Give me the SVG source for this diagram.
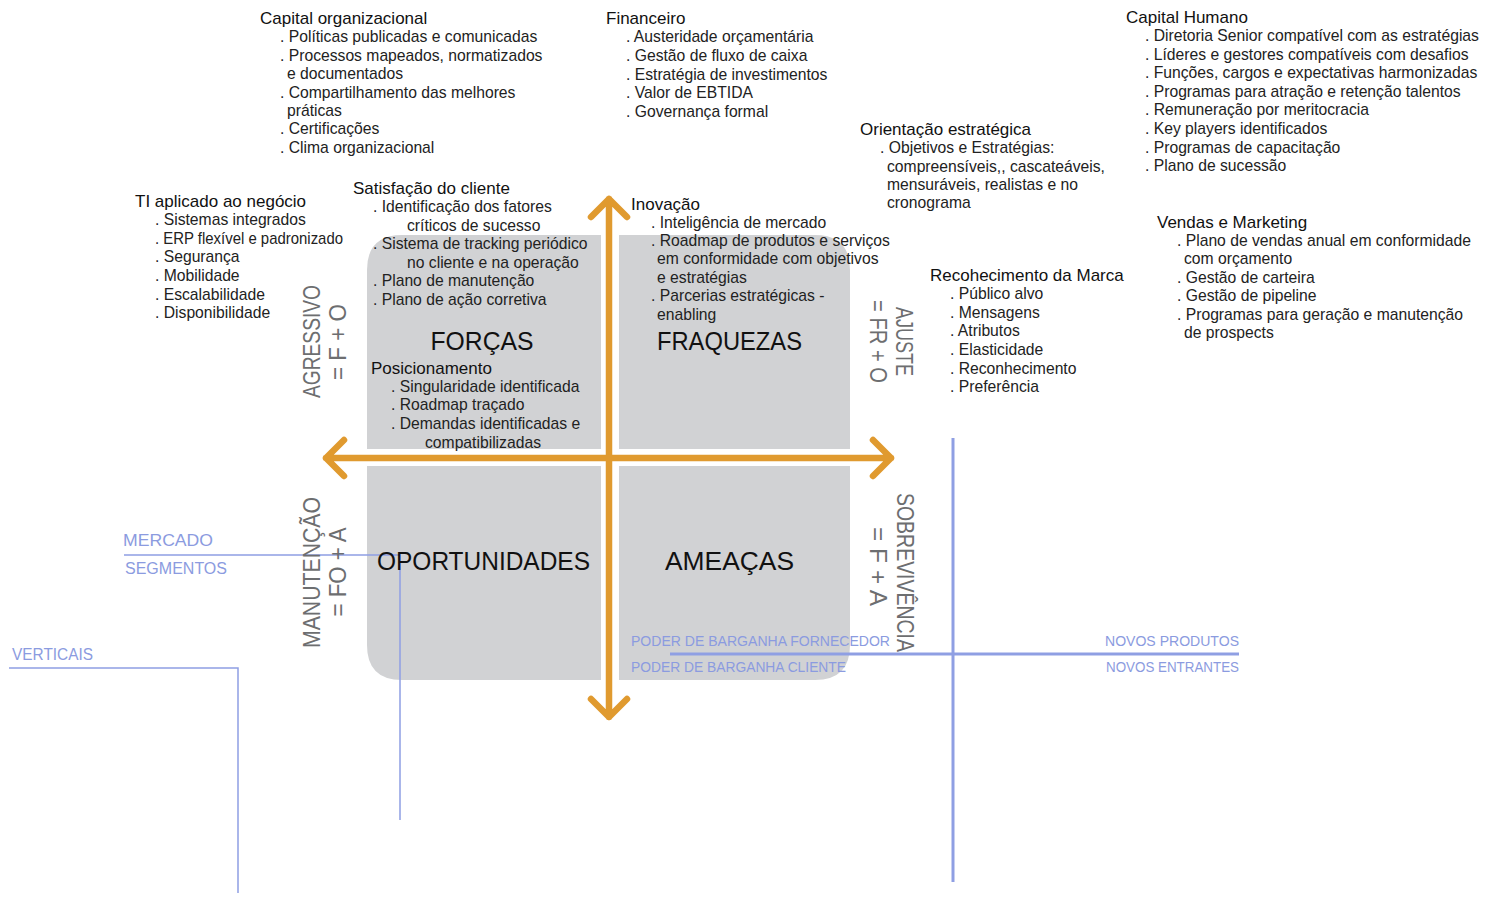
<svg xmlns="http://www.w3.org/2000/svg" width="1500" height="900" viewBox="0 0 1500 900">
<style>
text{font-family:"Liberation Sans","DejaVu Sans",sans-serif;}
.t{font-size:17px;fill:#111;}
.i{font-size:15.7px;fill:#222;}
.big{font-size:26px;fill:#111;text-anchor:middle;}
.rot{font-size:24px;fill:#6d6e70;text-anchor:middle;}
.bl{font-size:16px;fill:#8b9be0;}
.bls{font-size:14.5px;fill:#8b9be0;}
.q{fill:#d1d2d4;}
.arr{fill:none;stroke:#e09a2f;stroke-width:6.5;stroke-linecap:round;stroke-linejoin:round;}
.ln{fill:none;stroke:#8f9fe3;stroke-width:1.5;}
.lnb{fill:none;stroke:#8f9fe3;stroke-width:3;}
</style>
<rect width="1500" height="900" fill="#fff"/>
<g id="quadrants">
<path class="q" d="M367,270 Q367,235 402,235 L601,235 L601,449 L367,449 Z"/>
<path class="q" d="M619,235 L815,235 Q850,235 850,270 L850,449 L619,449 Z"/>
<path class="q" d="M367,466 L601,466 L601,680 L402,680 Q367,680 367,645 Z"/>
<path class="q" d="M619,466 L850,466 L850,645 Q850,680 815,680 L619,680 Z"/>
</g>
<g id="connectors">
<path class="arr" d="M609,199 L609,717 M591,217 L609,199 L627,217 M591,699 L609,717 L627,699"/>
<path class="arr" d="M326,458 L891,458 M344,440 L326,458 L344,476 M873,440 L891,458 L873,476"/>
<path class="ln" d="M124,555 L400,555 L400,820"/>
<path class="ln" d="M9,668 L238,668 L238,893"/>
<path class="lnb" d="M953,438 L953,882 M670,654 L1239,654"/>
</g>
<g id="capital-organizacional">
<text class="t" x="260" y="24">Capital organizacional</text>
<text class="i" x="280" y="42">. Políticas publicadas e comunicadas</text>
<text class="i" x="280" y="60.5">. Processos mapeados, normatizados</text>
<text class="i" x="287" y="79">e documentados</text>
<text class="i" x="280" y="97.5">. Compartilhamento das melhores</text>
<text class="i" x="287" y="116">práticas</text>
<text class="i" x="280" y="134">. Certificações</text>
<text class="i" x="280" y="153">. Clima organizacional</text>
</g>
<g id="financeiro">
<text class="t" x="606" y="24">Financeiro</text>
<text class="i" x="626" y="42">. Austeridade orçamentária</text>
<text class="i" x="626" y="61">. Gestão de fluxo de caixa</text>
<text class="i" x="626" y="79.5">. Estratégia de investimentos</text>
<text class="i" x="626" y="98">. Valor de EBTIDA</text>
<text class="i" x="626" y="117">. Governança formal</text>
</g>
<g id="capital-humano">
<text class="t" x="1126" y="23">Capital Humano</text>
<text class="i" x="1145" y="41">. Diretoria Senior compatível com as estratégias</text>
<text class="i" x="1145" y="60">. Líderes e gestores compatíveis com desafios</text>
<text class="i" x="1145" y="78">. Funções, cargos e expectativas harmonizadas</text>
<text class="i" x="1145" y="97">. Programas para atração e retenção talentos</text>
<text class="i" x="1145" y="115">. Remuneração por meritocracia</text>
<text class="i" x="1145" y="134">. Key players identificados</text>
<text class="i" x="1145" y="153">. Programas de capacitação</text>
<text class="i" x="1145" y="171">. Plano de sucessão</text>
</g>
<g id="orientacao-estrategica">
<text class="t" x="860" y="135">Orientação estratégica</text>
<text class="i" x="880" y="153">. Objetivos e Estratégias:</text>
<text class="i" x="887" y="172">compreensíveis,, cascateáveis,</text>
<text class="i" x="887" y="190">mensuráveis, realistas e no</text>
<text class="i" x="887" y="208">cronograma</text>
</g>
<g id="ti-aplicado">
<text class="t" x="135" y="207">TI aplicado ao negócio</text>
<text class="i" x="155" y="225">. Sistemas integrados</text>
<text class="i" x="155" y="244" textLength="188" lengthAdjust="spacingAndGlyphs">. ERP flexível e padronizado</text>
<text class="i" x="155" y="262">. Segurança</text>
<text class="i" x="155" y="281">. Mobilidade</text>
<text class="i" x="155" y="300">. Escalabilidade</text>
<text class="i" x="155" y="318">. Disponibilidade</text>
</g>
<g id="satisfacao-cliente">
<text class="t" x="353" y="194">Satisfação do cliente</text>
<text class="i" x="373" y="212">. Identificação dos fatores</text>
<text class="i" x="407" y="231">críticos de sucesso</text>
<text class="i" x="373" y="249">. Sistema de tracking periódico</text>
<text class="i" x="407" y="268">no cliente e na operação</text>
<text class="i" x="373" y="286">. Plano de manutenção</text>
<text class="i" x="373" y="305">. Plano de ação corretiva</text>
</g>
<g id="forcas">
<text class="big" x="482" y="350" textLength="103" lengthAdjust="spacingAndGlyphs">FORÇAS</text>
</g>
<g id="posicionamento">
<text class="t" x="371" y="374">Posicionamento</text>
<text class="i" x="391" y="392">. Singularidade identificada</text>
<text class="i" x="391" y="410">. Roadmap traçado</text>
<text class="i" x="391" y="429">. Demandas identificadas e</text>
<text class="i" x="425" y="448">compatibilizadas</text>
</g>
<g id="inovacao">
<text class="t" x="631" y="210">Inovação</text>
<text class="i" x="651" y="228">. Inteligência de mercado</text>
<text class="i" x="651" y="246">. Roadmap de produtos e serviços</text>
<text class="i" x="657" y="264">em conformidade com objetivos</text>
<text class="i" x="657" y="283">e estratégias</text>
<text class="i" x="651" y="301">. Parcerias estratégicas -</text>
<text class="i" x="657" y="320">enabling</text>
</g>
<g id="fraquezas">
<text class="big" x="729.5" y="350" textLength="145" lengthAdjust="spacingAndGlyphs">FRAQUEZAS</text>
</g>
<g id="oportunidades">
<text class="big" x="483.5" y="570" textLength="213" lengthAdjust="spacingAndGlyphs">OPORTUNIDADES</text>
</g>
<g id="ameacas">
<text class="big" x="729.5" y="570" textLength="129" lengthAdjust="spacingAndGlyphs">AMEAÇAS</text>
</g>
<g id="reconhecimento-marca">
<text class="t" x="930" y="281">Recohecimento da Marca</text>
<text class="i" x="950" y="299">. Público alvo</text>
<text class="i" x="950" y="318">. Mensagens</text>
<text class="i" x="950" y="336">. Atributos</text>
<text class="i" x="950" y="355">. Elasticidade</text>
<text class="i" x="950" y="374">. Reconhecimento</text>
<text class="i" x="950" y="392">. Preferência</text>
</g>
<g id="vendas-marketing">
<text class="t" x="1157" y="228">Vendas e Marketing</text>
<text class="i" x="1177" y="246">. Plano de vendas anual em conformidade</text>
<text class="i" x="1184" y="264">com orçamento</text>
<text class="i" x="1177" y="283">. Gestão de carteira</text>
<text class="i" x="1177" y="301">. Gestão de pipeline</text>
<text class="i" x="1177" y="320">. Programas para geração e manutenção</text>
<text class="i" x="1184" y="338">de prospects</text>
</g>
<g id="estrategias">
<g transform="translate(311,341.5) rotate(-90)"><text class="rot" x="0" y="8.5" textLength="113" lengthAdjust="spacingAndGlyphs">AGRESSIVO</text></g>
<g transform="translate(337,342) rotate(-90)"><text class="rot" x="0" y="8.5" textLength="76" lengthAdjust="spacingAndGlyphs">= F + O</text></g>
<g transform="translate(311,572.5) rotate(-90)"><text class="rot" x="0" y="8.5" textLength="151" lengthAdjust="spacingAndGlyphs">MANUTENÇÃO</text></g>
<g transform="translate(337,572) rotate(-90)"><text class="rot" x="0" y="8.5" textLength="89" lengthAdjust="spacingAndGlyphs">= FO + A</text></g>
<g transform="translate(904,341.5) rotate(90)"><text class="rot" x="0" y="8.5" textLength="69" lengthAdjust="spacingAndGlyphs">AJUSTE</text></g>
<g transform="translate(878,341.5) rotate(90)"><text class="rot" x="0" y="8.5" textLength="83" lengthAdjust="spacingAndGlyphs">= FR + O</text></g>
<g transform="translate(905,572.5) rotate(90)"><text class="rot" x="0" y="8.5" textLength="159" lengthAdjust="spacingAndGlyphs">SOBREVIVÊNCIA</text></g>
<g transform="translate(878,566.5) rotate(90)"><text class="rot" x="0" y="8.5" textLength="79" lengthAdjust="spacingAndGlyphs">= F + A</text></g>
</g>
<g id="mercado">
<text class="bl" x="123" y="546" textLength="90" lengthAdjust="spacingAndGlyphs">MERCADO</text>
<text class="bl" x="125" y="574" textLength="102" lengthAdjust="spacingAndGlyphs">SEGMENTOS</text>
</g>
<g id="verticais">
<text class="bl" x="12" y="660" textLength="81" lengthAdjust="spacingAndGlyphs">VERTICAIS</text>
</g>
<g id="poder-barganha">
<text class="bls" x="631" y="646" textLength="259" lengthAdjust="spacingAndGlyphs">PODER DE BARGANHA FORNECEDOR</text>
<text class="bls" x="631" y="672" textLength="215" lengthAdjust="spacingAndGlyphs">PODER DE BARGANHA CLIENTE</text>
</g>
<g id="novos">
<text class="bls" x="1105" y="646" textLength="134" lengthAdjust="spacingAndGlyphs">NOVOS PRODUTOS</text>
<text class="bls" x="1106" y="672" textLength="133" lengthAdjust="spacingAndGlyphs">NOVOS ENTRANTES</text>
</g>
</svg>
